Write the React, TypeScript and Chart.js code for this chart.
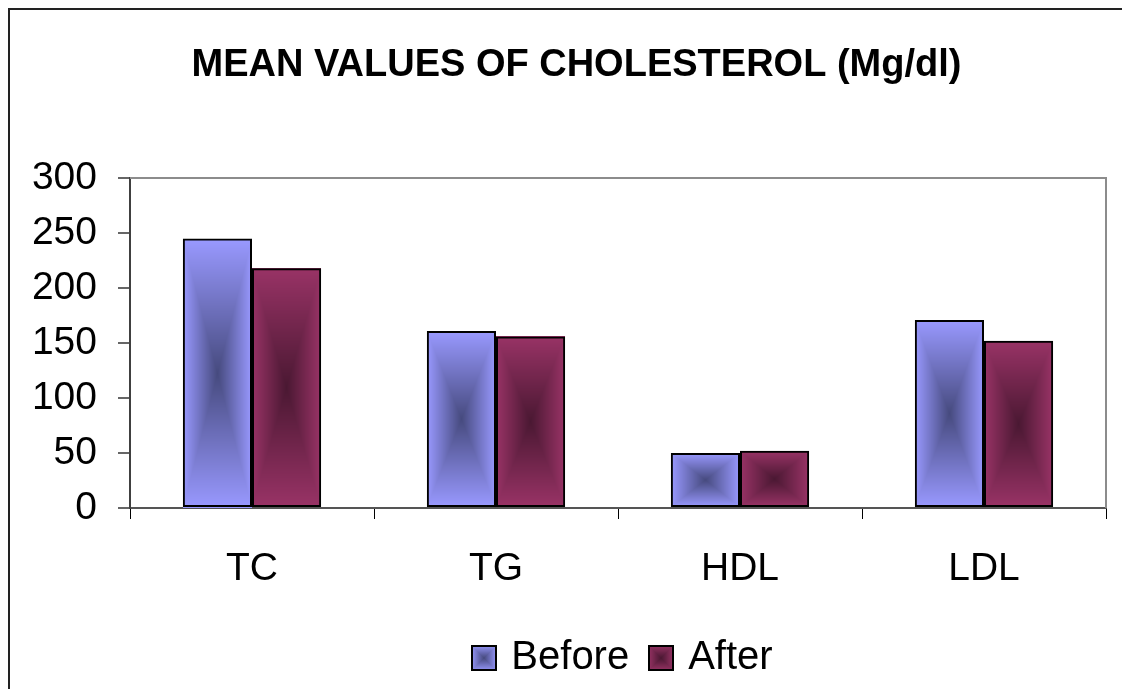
import { useEffect, useRef } from "react";
import { Chart, registerables } from "chart.js";

Chart.register(...registerables);

const categories = ["TC", "TG", "HDL", "LDL"];
const beforeValues = [245, 161, 50, 171];
const afterValues = [218, 156, 52, 152];
const seriesNames = ["Before", "After"];
const yMin = 0;
const yMax = 300;
const yStep = 50;
const titleText = "MEAN VALUES OF CHOLESTEROL (Mg/dl)";
const edgeColors = ["#9999FF", "#993366"];
const centerColors = ["#464A7E", "#4A1832"];

const FONT = '"Liberation Sans", Arial, sans-serif';
const W = 1122;
const H = 681;

function hexToRgb(h: string): [number, number, number] {
  const v = h.replace("#", "");
  return [parseInt(v.slice(0, 2), 16), parseInt(v.slice(2, 4), 16), parseInt(v.slice(4, 6), 16)];
}

function paintRectGradient(
  ctx: CanvasRenderingContext2D,
  x0: number,
  y0: number,
  w: number,
  h: number,
  edge: string,
  center: string
) {
  const Wp = Math.max(1, Math.round(w));
  const Hp = Math.max(1, Math.round(h));
  const off = document.createElement("canvas");
  off.width = Wp;
  off.height = Hp;
  const octx = off.getContext("2d")!;
  const img = octx.createImageData(Wp, Hp);
  const e = hexToRgb(edge);
  const c = hexToRgb(center);
  const hw = Wp / 2;
  const hh = Hp / 2;
  for (let y = 0; y < Hp; y++) {
    const dy = Math.abs(y + 0.5 - hh) / hh;
    for (let x = 0; x < Wp; x++) {
      const dx = Math.abs(x + 0.5 - hw) / hw;
      const t = Math.max(dx, dy);
      const i = (y * Wp + x) * 4;
      img.data[i] = Math.round(c[0] + (e[0] - c[0]) * t);
      img.data[i + 1] = Math.round(c[1] + (e[1] - c[1]) * t);
      img.data[i + 2] = Math.round(c[2] + (e[2] - c[2]) * t);
      img.data[i + 3] = 255;
    }
  }
  octx.putImageData(img, 0, 0);
  ctx.drawImage(off, Math.round(x0), Math.round(y0));
}

const gradientBarsPlugin = {
  id: "gradientBars",
  beforeDatasetDraw(chart: any, args: any) {
    const ctx = chart.ctx as CanvasRenderingContext2D;
    const idx = args.index;
    ctx.save();
    args.meta.data.forEach((el: any) => {
      const p = el.getProps(["x", "y", "base", "width"], true);
      const left = p.x - p.width / 2;
      const top = Math.min(p.y, p.base);
      const h = Math.abs(p.base - p.y);
      paintRectGradient(ctx, left, top, p.width, h, edgeColors[idx], centerColors[idx]);
    });
    ctx.restore();
  },
};

const decorPlugin = {
  id: "decor",
  afterDraw(chart: any) {
    const ctx = chart.ctx as CanvasRenderingContext2D;
    const a = chart.chartArea;
    ctx.save();
    // outer frame (top and left)
    ctx.fillStyle = "#222";
    ctx.fillRect(0, 0, W, 2);
    ctx.fillRect(0, 0, 2, H);
    // plot area top/right border
    ctx.strokeStyle = "#8c8c8c";
    ctx.lineWidth = 2;
    ctx.beginPath();
    ctx.moveTo(a.left, a.top);
    ctx.lineTo(a.right, a.top);
    ctx.lineTo(a.right, a.bottom);
    ctx.stroke();
    // title
    ctx.fillStyle = "#000";
    ctx.font = `bold 38px ${FONT}`;
    ctx.textAlign = "center";
    ctx.textBaseline = "alphabetic";
    ctx.fillText(titleText, 568.5, 68);
    // legend
    ctx.font = `40px ${FONT}`;
    ctx.textAlign = "left";
    const box = 26;
    const gapText = 14;
    const gapItem = 19;
    const widths = seriesNames.map((n) => ctx.measureText(n).width);
    let total = 0;
    widths.forEach((w, i) => {
      total += box + gapText + w + (i < widths.length - 1 ? gapItem : 0);
    });
    let x = (a.left + a.right) / 2 + 4 - total / 2;
    const boxTop = 637;
    const baseline = 661;
    seriesNames.forEach((n, i) => {
      paintRectGradient(ctx, x, boxTop, box, box, edgeColors[i], centerColors[i]);
      ctx.strokeStyle = "#000";
      ctx.lineWidth = 2;
      ctx.strokeRect(Math.round(x) + 1, boxTop + 1, box - 2, box - 2);
      ctx.fillStyle = "#000";
      ctx.fillText(n, x + box + gapText, baseline);
      x += box + gapText + widths[i] + gapItem;
    });
    ctx.restore();
  },
};

export default function App() {
  const ref = useRef<HTMLCanvasElement | null>(null);
  useEffect(() => {
    document.documentElement.style.overflow = "hidden";
    document.body.style.overflow = "hidden";
    if (!ref.current) return;
    const chart = new Chart(ref.current, {
      type: "bar",
      data: {
        labels: categories,
        datasets: [
          {
            label: seriesNames[0],
            data: beforeValues,
            backgroundColor: "rgba(0,0,0,0)",
            borderColor: "#000",
            borderWidth: 2,
            borderSkipped: false,
          },
          {
            label: seriesNames[1],
            data: afterValues,
            backgroundColor: "rgba(0,0,0,0)",
            borderColor: "#000",
            borderWidth: 2,
            borderSkipped: false,
          },
        ],
      },
      options: {
        responsive: false,
        animation: false,
        devicePixelRatio: 1,
        layout: { padding: { left: 0, top: 170, right: 24, bottom: 0 } },
        datasets: { bar: { barPercentage: 1, categoryPercentage: 0.567 } },
        plugins: {
          legend: { display: false },
          title: { display: false },
          tooltip: { enabled: false },
        },
        scales: {
          x: {
            afterFit: (s: any) => {
              s.height = 181;
            },
            grid: {
              offset: true,
              drawOnChartArea: false,
              drawTicks: true,
              tickLength: 11,
              color: "#000",
              lineWidth: 1,
            },
            border: { display: true, color: "#555", width: 2 },
            ticks: {
              color: "#000",
              font: { family: FONT, size: 39 },
              padding: 27,
              maxRotation: 0,
            },
          },
          y: {
            min: yMin,
            max: yMax,
            afterFit: (s: any) => {
              s.width = 122;
            },
            grid: {
              drawOnChartArea: false,
              drawTicks: true,
              tickLength: 12,
              color: "#666",
              lineWidth: 2,
            },
            border: { display: true, color: "#404040", width: 2 },
            ticks: {
              stepSize: yStep,
              color: "#000",
              font: { family: FONT, size: 39 },
              padding: 21,
            },
          },
        },
      },
      plugins: [gradientBarsPlugin, decorPlugin],
    });
    return () => chart.destroy();
  }, []);
  return (
    <div style={{ width: W, height: H }}>
      <canvas ref={ref} width={W} height={H} style={{ display: "block", width: W, height: H }} />
    </div>
  );
}
